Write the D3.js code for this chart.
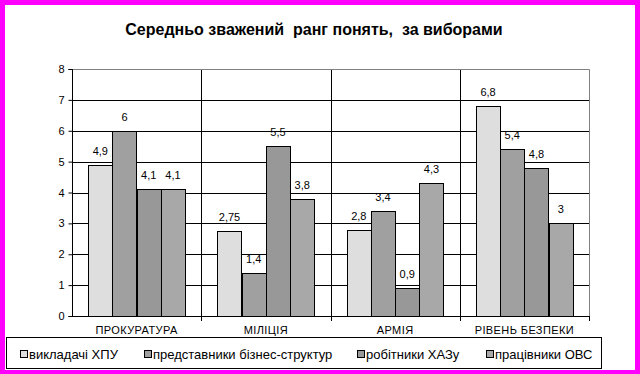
<!DOCTYPE html>
<html><head><meta charset="utf-8">
<script src="https://cdn.jsdelivr.net/npm/d3@7/dist/d3.min.js"></script>
<style>body{margin:0;background:#fff}svg{display:block}text{font-family:Arial,"Liberation Sans",sans-serif}</style>
</head><body>
<script>
const categories = ["ПРОКУРАТУРА", "МІЛІЦІЯ", "АРМІЯ", "РІВЕНЬ БЕЗПЕКИ"];
const seriesNames = ["викладачі ХПУ", "представники бізнес-структур", "робітники ХАЗу", "працівники ОВС"];
const seriesValues = [
  [4.9, 2.75, 2.8, 6.8],
  [6, 1.4, 3.4, 5.4],
  [4.1, 5.5, 0.9, 4.8],
  [4.1, 3.8, 4.3, 3]
];
const yTicks = [0, 1, 2, 3, 4, 5, 6, 7, 8];
const title = "Середньо зважений  ранг понять,  за виборами";
const colors = ["#dedede", "#a0a0a0", "#989898", "#a8a8a8"];

const W = 640, H = 374;
const svg = d3.select("body").append("svg").attr("width", W).attr("height", H);
svg.append("rect").attr("width", W).attr("height", H).attr("fill", "#ff00ff");
svg.append("rect").attr("x", 5).attr("y", 5).attr("width", 630).attr("height", 365).attr("fill", "#fff");

const L = 72, R = 589, T = 69, B = 316;
const x0 = d3.scaleBand().domain(categories).range([L, R]).padding(0);
const bw = x0.bandwidth();
const x1 = d3.scaleBand().domain(d3.range(seriesNames.length)).range([bw * 0.125, bw * 0.875]).padding(0);
const y = d3.scaleLinear().domain([0, 8]).range([B, T]);

svg.append("text").attr("x", 314).attr("y", 35).attr("text-anchor", "middle")
  .attr("font-size", 16).attr("font-weight", "bold").style("white-space", "pre").attr("xml:space", "preserve").text(title);

// horizontal gridlines
svg.append("g").selectAll("line").data(yTicks.filter(d => d > 0 && d < 8)).join("line")
  .attr("x1", L).attr("x2", R).attr("y1", d => Math.round(y(d)) + 0.5).attr("y2", d => Math.round(y(d)) + 0.5)
  .attr("stroke", "#000");
// vertical category separators
svg.append("g").selectAll("line").data(categories.slice(1)).join("line")
  .attr("x1", d => Math.round(x0(d)) + 0.5).attr("x2", d => Math.round(x0(d)) + 0.5)
  .attr("y1", T).attr("y2", B + 5).attr("stroke", "#000");
// plot border top/right gray
svg.append("path").attr("d", `M${L},${T + 0.5}H${R + 0.5}V${B}`).attr("fill", "none").attr("stroke", "#808080");

// bars
const g = svg.append("g");
seriesValues.forEach((vals, si) => {
  g.selectAll(null).data(vals).join("rect")
    .attr("x", (d, i) => Math.round(x0(categories[i]) + x1(si)) + 0.5)
    .attr("y", d => Math.round(y(d)) + 0.5)
    .attr("width", Math.round(x1.bandwidth()))
    .attr("height", d => Math.round(B - y(d)))
    .attr("fill", colors[si]).attr("stroke", "#000");
  g.selectAll(null).data(vals).join("text")
    .attr("x", (d, i) => x0(categories[i]) + x1(si) + x1.bandwidth() / 2)
    .attr("y", d => y(d) - 10)
    .attr("text-anchor", "middle").attr("font-size", 11).attr("fill", "#000")
    .text(d => String(d).replace(".", ","));
});

// y axis
const yAxis = d3.axisLeft(y).tickValues(yTicks).tickSize(4).tickPadding(4).tickFormat(d3.format("d"));
const ya = svg.append("g").attr("transform", `translate(${L + 0.5},0)`).call(yAxis);
ya.select(".domain").attr("d", `M-4,${T + 0.5}H0V${B + 0.5}H-4`).attr("stroke", "#000");
ya.selectAll(".tick line").attr("stroke", "#000");
ya.selectAll(".tick text").attr("font-size", 11).attr("font-family", "Arial, 'Liberation Sans', sans-serif").attr("fill", "#000");

// x axis
const xAxis = d3.axisBottom(x0).tickSize(0).tickPadding(10);
const xa = svg.append("g").attr("transform", `translate(0,${B + 0.5})`).call(xAxis);
xa.select(".domain").attr("d", `M${L},0H${R + 0.5}`).attr("stroke", "#000");
xa.selectAll(".tick text").attr("font-size", 11).attr("font-family", "Arial, 'Liberation Sans', sans-serif").attr("fill", "#000").attr("letter-spacing", 0.4);
svg.append("line").attr("x1", R + 0.5).attr("x2", R + 0.5).attr("y1", B).attr("y2", B + 5).attr("stroke", "#000");

// legend
svg.append("rect").attr("x", 6.5).attr("y", 337.5).attr("width", 595).attr("height", 31).attr("fill", "#fff").attr("stroke", "#000");
const legX = [20, 144, 357, 486];
const lg = svg.append("g").selectAll("g").data(seriesNames).join("g")
  .attr("transform", (d, i) => `translate(${legX[i]},350)`);
lg.append("rect").attr("x", 0.5).attr("y", 0.5).attr("width", 7).attr("height", 7).attr("fill", (d, i) => colors[i]).attr("stroke", "#000");
lg.append("text").attr("x", 9).attr("y", 8.5).attr("font-size", 13).attr("fill", "#000").text(d => d);
</script>
</body></html>
